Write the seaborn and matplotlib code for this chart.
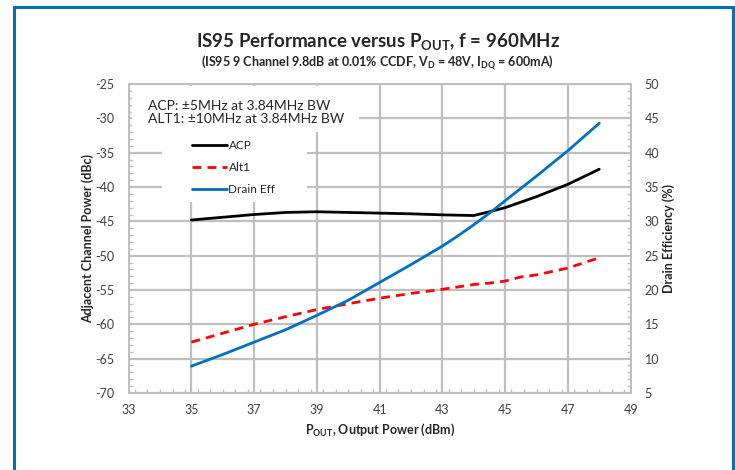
import matplotlib
matplotlib.use("Agg")
import matplotlib.pyplot as plt
from matplotlib.patches import Rectangle
from matplotlib.lines import Line2D
from matplotlib.ticker import MultipleLocator
import seaborn as sns

# Output power sweep (dBm)
pout = [35, 36, 37, 38, 39, 40, 41, 42, 43, 43.5, 44, 44.5, 45, 45.5, 46, 47, 48]
# Adjacent channel power (dBc), +/-5 MHz offset
acp = [-44.8, -44.4, -44.0, -43.7, -43.6, -43.7, -43.8, -43.9, -44.05, -44.1, -44.15,
       -43.6, -43.0, -42.2, -41.4, -39.6, -37.4]
# Alternate channel power (dBc), +/-10 MHz offset
alt1 = [-62.6, -61.3, -60.0, -58.9, -57.85, -57.0, -56.2, -55.5, -54.9, -54.55, -54.2,
        -54.0, -53.7, -53.1, -52.8, -51.8, -50.3]
# Drain efficiency (%)
drain_eff = [8.9, 10.6, 12.4, 14.2, 16.3, 18.5, 21.1, 23.7, 26.4, 27.9, 29.5,
             31.2, 33.0, 34.8, 36.6, 40.3, 44.3]

x_ticks = [33, 35, 37, 39, 41, 43, 45, 47, 49]
left_ticks = [-70, -65, -60, -55, -50, -45, -40, -35, -30, -25]
right_ticks = [5, 10, 15, 20, 25, 30, 35, 40, 45, 50]

sns.set_theme(style="white")
plt.rcParams["font.family"] = ["Lato", "DejaVu Sans"]
plt.rcParams["axes.unicode_minus"] = False

fig = plt.figure(figsize=(7.35, 4.70), dpi=100)
ax = fig.add_axes([0.175, 0.164, 0.683, 0.657])
ax2 = ax.twinx()

grid_c = "#bfbfbf"
tick_c = "#404040"
dash = (0, (3.2, 2.2))

sns.lineplot(x=pout, y=acp, ax=ax, color="black", linewidth=2.0, zorder=4)
sns.lineplot(x=pout, y=alt1, ax=ax, color="#ff0000", linewidth=2.0,
             linestyle=dash, zorder=4)
sns.lineplot(x=pout, y=drain_eff, ax=ax2, color="#0070c0", linewidth=2.0, zorder=4)

ax.set_xlim(33, 49)
ax.set_ylim(-70, -25)
ax2.set_ylim(5, 50)
ax.set_xticks(x_ticks)
ax.set_yticks(left_ticks)
ax2.set_yticks(right_ticks)
ax.xaxis.set_minor_locator(MultipleLocator(0.4))
ax.yaxis.set_minor_locator(MultipleLocator(1))
ax2.yaxis.set_minor_locator(MultipleLocator(1))

ax.grid(True, which="major", color=grid_c, linewidth=1.6)
ax.set_axisbelow(True)

for a in (ax, ax2):
    for s in a.spines.values():
        s.set_color(grid_c)
        s.set_linewidth(1.4)
    a.tick_params(which="major", length=0, labelsize=9, labelcolor=tick_c)
    a.tick_params(which="minor", direction="in", length=3, color=grid_c, width=1)
ax.tick_params(axis="y", which="major", pad=10)
ax.tick_params(axis="x", which="major", pad=8)
ax2.tick_params(axis="y", which="major", pad=10)
ax2.tick_params(axis="y", which="minor", right=True, direction="in")
ax.tick_params(axis="x", which="minor", bottom=True)
ax.tick_params(axis="y", which="minor", left=True)

ax.set_xlabel(r"P$_{\mathregular{OUT}}$, Output Power (dBm)", fontsize=9,
              fontweight="bold", color="#262626", labelpad=4)
ax.set_ylabel("Adjacent Channel Power (dBc)", fontsize=9, fontweight="bold",
              color="#262626", labelpad=1)
ax2.set_ylabel("Drain Efficiency (%)", fontsize=9, fontweight="bold",
               color="#262626", labelpad=2)

# White panels behind the notes and the legend
ax.add_patch(Rectangle((0.006, 0.845), 0.453, 0.15, transform=ax.transAxes,
                       facecolor="white", edgecolor="none", zorder=1))
ax.add_patch(Rectangle((0.0665, 0.618), 0.289, 0.227, transform=ax.transAxes,
                       facecolor="white", edgecolor="none", zorder=1))

# Measurement condition notes
ax.text(0.038, 0.948, "ACP: \u00b15MHz at 3.84MHz BW\nALT1: \u00b110MHz at 3.84MHz BW",
        transform=ax.transAxes, fontsize=10, color="#262626", va="top",
        ha="left", linespacing=1.12, zorder=6)

handles = [
    Line2D([], [], color="black", linewidth=2.0),
    Line2D([], [], color="#ff0000", linewidth=2.0, linestyle=dash),
    Line2D([], [], color="#0070c0", linewidth=2.0),
]
leg = ax2.legend(handles, ["ACP", "Alt1", "Drain Eff"], loc="upper left",
                 bbox_to_anchor=(0.126, 0.82), borderaxespad=0, frameon=False,
                 fontsize=8.5, handlelength=3.0, handletextpad=0.1,
                 labelspacing=0.95, borderpad=0)
for t in leg.get_texts():
    t.set_color("#262626")

fig.text(0.514, 0.909, r"IS95 Performance versus P$_{\mathregular{OUT}}$, f = 960MHz",
         ha="center", va="center", fontsize=13.5, fontweight="bold", color="#262626")
fig.text(0.514, 0.866,
         r"(IS95 9 Channel 9.8dB at 0.01% CCDF, V$_{\mathregular{D}}$ = 48V, "
         r"I$_{\mathregular{DQ}}$ = 600mA)",
         ha="center", va="center", fontsize=9, fontweight="bold", color="#262626")

# Blue outline around the figure
fig.patches.append(Rectangle((13.5 / 735, -0.1), (732.5 - 13.5) / 735, 1.1 - 7.5 / 470,
                             transform=fig.transFigure, fill=False,
                             edgecolor="#0070b8", linewidth=2.2, zorder=10))

fig.savefig("out.png", dpi=100)
